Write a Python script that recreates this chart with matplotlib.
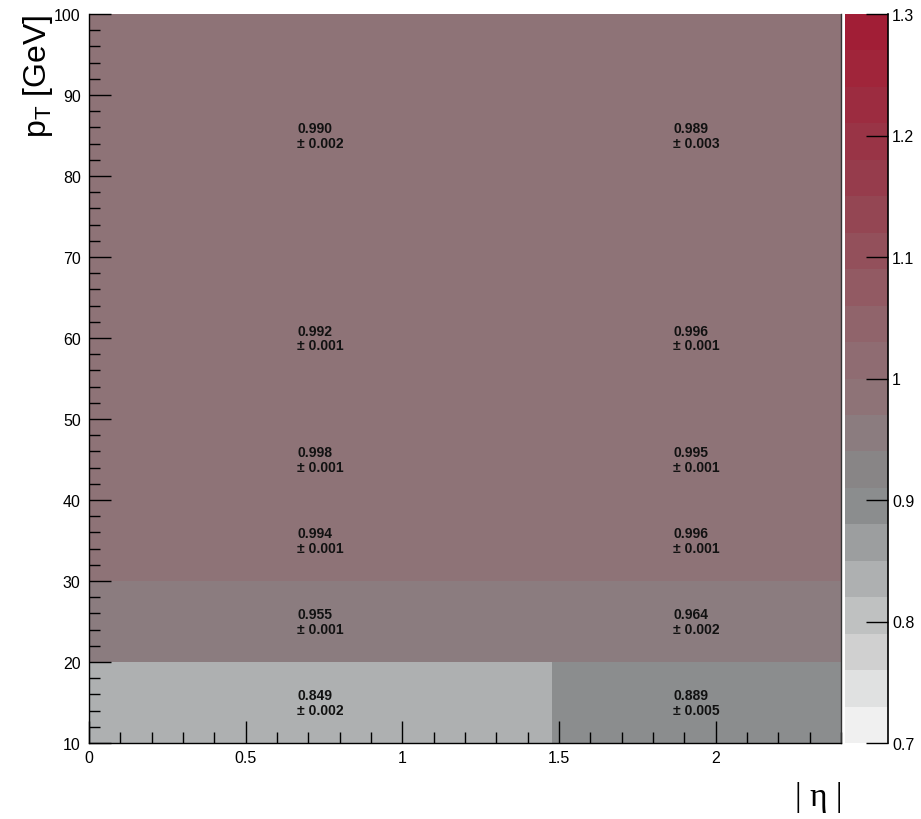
import numpy as np
import matplotlib
matplotlib.use("Agg")
import matplotlib.pyplot as plt
from matplotlib.colors import ListedColormap, BoundaryNorm

plt.rcParams['font.family'] = ['Liberation Sans', 'DejaVu Sans']
plt.rcParams['mathtext.fontset'] = 'custom'
plt.rcParams['mathtext.rm'] = 'Liberation Sans'

# bin edges
eta_edges = [0.0, 1.479, 2.4]
pt_edges = [10, 20, 30, 40, 50, 70, 100]

# scale factors (rows = pt bins, cols = |eta| bins)
sf = [[0.849, 0.889],
      [0.955, 0.964],
      [0.994, 0.996],
      [0.998, 0.995],
      [0.992, 0.996],
      [0.990, 0.989]]
sf_err = [[0.002, 0.005],
          [0.001, 0.002],
          [0.001, 0.001],
          [0.001, 0.001],
          [0.001, 0.001],
          [0.002, 0.003]]

# palette, bottom (0.7) to top (1.3), 20 bands
band_colors = ['#f0f0f0', '#e0e1e1', '#d0d0d0', '#bfc1c1', '#aeb0b1',
               '#9c9e9f', '#8b8d8e', '#888586', '#8b7c7f', '#8e7377',
               '#8f6c72', '#90646b', '#925a63', '#93505b', '#944653',
               '#963c4c', '#993446', '#9c2c40', '#a0253a', '#a11e36']
levels = np.linspace(0.7, 1.3, 21)
cmap = ListedColormap(band_colors)
norm = BoundaryNorm(levels, cmap.N)

fig = plt.figure(figsize=(9.21, 8.2), dpi=100)
ax = fig.add_axes([89/921, 76/820, 752/921, 729/820])
cax = fig.add_axes([845/921, 76/820, 43/921, 729/820])

mesh = ax.pcolormesh(eta_edges, pt_edges, np.array(sf), cmap=cmap, norm=norm,
                     edgecolors='none', antialiased=False)

for i in range(len(pt_edges) - 1):
    for j in range(len(eta_edges) - 1):
        xc = 0.5 * (eta_edges[j] + eta_edges[j + 1])
        yc = 0.5 * (pt_edges[i] + pt_edges[i + 1])
        ax.text(xc, yc, f"{sf[i][j]:.3f}\n\u00b1 {sf_err[i][j]:.3f}",
                ha='center', va='center', multialignment='left',
                fontsize=10, fontweight='bold', color='#111111',
                linespacing=1.05)

ax.set_xlim(0, 2.4)
ax.set_ylim(10, 100)
ax.set_xticks([0, 0.5, 1, 1.5, 2])
ax.set_xticklabels(['0', '0.5', '1', '1.5', '2'])
ax.set_xticks(np.arange(0, 2.41, 0.1), minor=True)
ax.set_yticks(np.arange(10, 101, 10))
ax.set_yticks(np.arange(10, 101, 2), minor=True)
ax.tick_params(which='both', direction='in', labelsize=11.5, width=1.0, color='black')
ax.tick_params(which='major', length=16, pad=5)
ax.tick_params(which='minor', length=8)
ax.tick_params(axis='y', pad=6)
for s in ax.spines.values():
    s.set_linewidth(1.0)
ax.spines['top'].set_visible(False)
ax.spines['right'].set_color('#333333')

# colorbar
cb = fig.colorbar(mesh, cax=cax, ticks=[0.7, 0.8, 0.9, 1.0, 1.1, 1.2, 1.3])
cb.ax.set_yticklabels(['0.7', '0.8', '0.9', '1', '1.1', '1.2', '1.3'])
cb.outline.set_visible(False)
cb.ax.tick_params(direction='in', length=16, width=1.0, labelsize=11.5, pad=3)
cb.ax.minorticks_off()
cax.plot([1, 1], [0, 1], transform=cax.transAxes, color='black', lw=1.2, clip_on=False)

# axis titles
fig.text(38/921, 1 - 15/820, r'p$_\mathregular{T}$ [GeV]', rotation=90,
         ha='center', va='top', fontsize=23)
fig.text(842/921, 1 - 806/820, '| \u03b7 |', ha='right', va='baseline',
         fontsize=24, family=['Liberation Serif', 'DejaVu Serif'])

fig.savefig('out.png', dpi=100)
